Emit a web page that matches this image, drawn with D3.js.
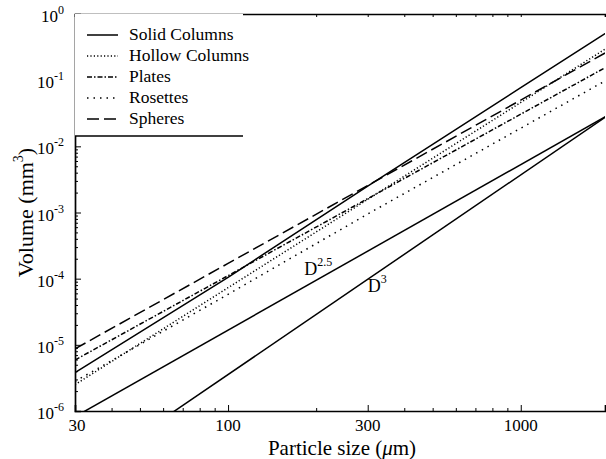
<!DOCTYPE html>
<html>
<head>
<meta charset="utf-8">
<script src="https://d3js.org/d3.v7.min.js"></script>
<style>
  body { margin: 0; background: #fff; }
  text { font-family: "Liberation Serif", "Times New Roman", serif; fill: #000; }
</style>
</head>
<body>
<div id="chart"></div>
<script>
// particle sizes (um) where values were read
var sizes = [30, 100, 300, 1000, 2000];

// volumes (mm^3)
var solidColumns  = [3.8e-6, 1.05e-4, 2.5e-3, 0.077, 0.55];
var hollowColumns = [2.5e-6, 7.3e-5, 1.58e-3, 0.046, 0.32];
var plates        = [5.9e-6, 1.11e-4, 1.62e-3, 0.0306, 0.166];
var rosettes      = [2.8e-6, 5.8e-5, 9.5e-4, 0.0188, 0.105];
var spheres       = [8.7e-6, 1.7e-4, 2.56e-3, 0.050, 0.277];

// reference power laws
var refSizes = [30, 2000];
var pow25 = [8.2e-7, 0.030];
var pow3  = [9.4e-8, 0.030];

var xTicks = [30, 100, 300, 1000];
var yExps = [0, -1, -2, -3, -4, -5, -6];

var series = [
  {name: "Solid Columns",  values: solidColumns,  dash: null},
  {name: "Hollow Columns", values: hollowColumns, dash: "1.2,2.2"},
  {name: "Plates",         values: plates,        dash: "5,2,1.5,2"},
  {name: "Rosettes",       values: rosettes,      dash: "1.5,5"},
  {name: "Spheres",        values: spheres,       dash: "12,5"}
];

var W = 606, H = 459;
var margin = {top: 14, right: 1, bottom: 48, left: 75};
var width = W - margin.left - margin.right,
    height = H - margin.top - margin.bottom;

var x = d3.scaleLog().domain([30, 1940]).range([0, width]);
var y = d3.scaleLog().domain([1e-6, 1]).range([height, 0]);

var svg = d3.select("#chart").append("svg")
    .attr("width", W)
    .attr("height", H);
var g = svg.append("g")
    .attr("transform", "translate(" + margin.left + "," + margin.top + ")");

g.append("clipPath").attr("id", "clip")
  .append("rect").attr("width", width).attr("height", height);

var line = d3.line()
    .x(function(d) { return x(d[0]); })
    .y(function(d) { return y(d[1]); });

var plot = g.append("g").attr("clip-path", "url(#clip)");

// reference lines
[pow25, pow3].forEach(function(vals) {
  plot.append("path")
      .datum(refSizes.map(function(s, i) { return [s, vals[i]]; }))
      .attr("d", line)
      .attr("fill", "none")
      .attr("stroke", "#000")
      .attr("stroke-width", 1.5);
});

// data series
series.forEach(function(s) {
  plot.append("path")
      .datum(sizes.map(function(v, i) { return [v, s.values[i]]; }))
      .attr("d", line)
      .attr("fill", "none")
      .attr("stroke", "#000")
      .attr("stroke-width", 1.5)
      .attr("stroke-dasharray", s.dash);
});

// D^2.5 and D^3 labels
var lab1 = g.append("text").attr("x", x(182)).attr("y", y(1.15e-4))
    .style("font-size", "18px").text("D");
lab1.append("tspan").attr("dy", -9).style("font-size", "12px").text("2.5");
var lab2 = g.append("text").attr("x", x(300)).attr("y", y(6.3e-5))
    .style("font-size", "18px").text("D");
lab2.append("tspan").attr("dy", -9).style("font-size", "12px").text("3");

// axes with inward ticks
var yMinor = [];
for (var e = -6; e < 0; e++) {
  for (var k = 2; k < 10; k++) yMinor.push(k * Math.pow(10, e));
}
g.append("g")
    .call(d3.axisRight(y).tickValues(yMinor).tickSize(3).tickFormat(""))
    .call(function(a) { a.select(".domain").remove(); });
g.append("g")
    .call(d3.axisRight(y).tickValues(yExps.map(function(e) { return Math.pow(10, e); }))
      .tickSize(6).tickFormat(""))
    .call(function(a) { a.select(".domain").attr("stroke-width", 1.7); });

var xMinor = [40, 50, 60, 70, 80, 90, 200, 400, 500, 600, 700, 800, 900];
g.append("g")
    .attr("transform", "translate(0," + height + ")")
    .call(d3.axisTop(x).tickValues(xMinor).tickSize(3).tickFormat(""))
    .call(function(a) { a.select(".domain").remove(); });
g.append("g")
    .attr("transform", "translate(0," + height + ")")
    .call(d3.axisTop(x).tickValues(xTicks).tickSize(6).tickFormat(""))
    .call(function(a) { a.select(".domain").attr("stroke-width", 1.7); });

// top frame
g.append("g")
    .call(d3.axisBottom(x).tickValues(xMinor.concat(xTicks)).tickSize(3).tickFormat(""))
    .call(function(a) { a.select(".domain").attr("stroke-width", 1.7); });

// tick labels
yExps.forEach(function(e) {
  var t = g.append("text")
      .attr("x", -11)
      .attr("y", y(Math.pow(10, e)) + 8)
      .attr("text-anchor", "end")
      .style("font-size", "17px");
  t.append("tspan").text("10");
  t.append("tspan").attr("dy", -8).style("font-size", "12px").text(e);
});
xTicks.forEach(function(v) {
  g.append("text")
      .attr("x", x(v) + (v === 30 ? 2 : 0))
      .attr("y", height + 20)
      .attr("text-anchor", "middle")
      .style("font-size", "17px")
      .text(v);
});

// axis titles
var xt = svg.append("text")
    .attr("x", 342).attr("y", 455)
    .attr("text-anchor", "middle")
    .style("font-size", "21px");
xt.append("tspan").text("Particle size (");
xt.append("tspan").style("font-style", "italic").text("\u03bc");
xt.append("tspan").text("m)");

var yt = svg.append("text")
    .attr("transform", "translate(33," + (margin.top + height / 2) + ") rotate(-90)")
    .attr("text-anchor", "middle")
    .style("font-size", "22px");
yt.append("tspan").text("Volume (mm");
yt.append("tspan").attr("dy", -10).style("font-size", "14px").text("3");
yt.append("tspan").attr("dy", 10).text(")");

// legend
var legend = g.append("g");
legend.append("rect")
    .attr("width", 168).attr("height", 122)
    .attr("fill", "#fff");
legend.append("line")
    .attr("x1", 0).attr("x2", 168).attr("y1", 122).attr("y2", 122)
    .attr("stroke", "#000").attr("stroke-width", 1.7);
series.forEach(function(s, i) {
  var ly = 21 + i * 21;
  legend.append("line")
      .attr("x1", 12).attr("x2", 43).attr("y1", ly).attr("y2", ly)
      .attr("stroke", "#000").attr("stroke-width", 1.5)
      .attr("stroke-dasharray", s.dash);
  legend.append("text")
      .attr("x", 54).attr("y", ly + 5)
      .style("font-size", "17.5px")
      .text(s.name);
});
</script>
</body>
</html>
